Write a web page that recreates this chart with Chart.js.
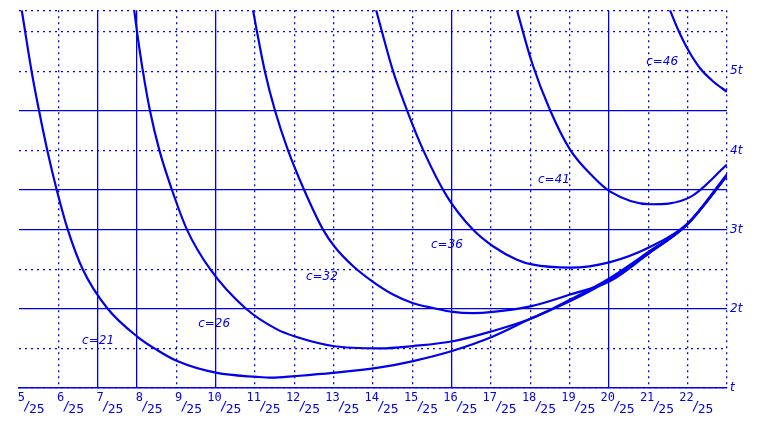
<!DOCTYPE html>
<html>
<head>
<meta charset="utf-8">
<script src="https://cdn.jsdelivr.net/npm/chart.js@4.4.0/dist/chart.umd.min.js"></script>
<style>
  html, body { margin: 0; padding: 0; background: #fff; }
  #wrap { width: 758px; height: 422px; position: relative; }
</style>
</head>
<body>
<div id="wrap"><canvas id="plot"></canvas></div>
<script>
// x is counted in 25ths, y in units of t
const xTicks = [5, 6, 7, 8, 9, 10, 11, 12, 13, 14, 15, 16, 17, 18, 19, 20, 21, 22];
const xDenominator = 25;
const yTickText = { 1: "t", 2: "2t", 3: "3t", 4: "4t", 5: "5t" };
const curveNames = ["c=21", "c=26", "c=32", "c=36", "c=41", "c=46"];

const c21X = [5.07, 5.32, 5.51, 5.72, 5.96, 6.24, 6.62, 7.24, 8.03, 8.51, 9.02, 10.03, 11.05, 11.43, 12.02, 12.98, 14.18, 15.02, 16.03, 17.05, 17.99, 19.03, 20.03, 21.04, 21.98, 23];
const c21Y = [5.77, 5.0, 4.5, 4.0, 3.5, 3.0, 2.5, 2.01, 1.64, 1.48, 1.34, 1.19, 1.14, 1.13, 1.15, 1.19, 1.26, 1.34, 1.47, 1.65, 1.87, 2.1, 2.37, 2.71, 3.06, 3.68];

const c26X = [7.93, 8.0, 8.15, 8.33, 8.57, 8.89, 9.27, 9.86, 10.75, 11.56, 12.02, 12.98, 14.18, 15.02, 16.03, 17.05, 17.99, 19.03, 20.03, 21.04, 21.98, 23];
const c26Y = [5.77, 5.5, 5.0, 4.5, 4.0, 3.5, 3.0, 2.5, 2.01, 1.74, 1.65, 1.53, 1.5, 1.53, 1.59, 1.72, 1.87, 2.12, 2.39, 2.73, 3.06, 3.68];

const c32X = [10.95, 11.05, 11.25, 11.51, 11.84, 12.25, 12.73, 13.03, 13.49, 14.0, 14.51, 15.02, 15.53, 16.03, 16.54, 17.05, 18.0, 19.01, 20.03, 21.04, 21.98, 23];
const c32Y = [5.77, 5.5, 5.0, 4.5, 4.0, 3.5, 3.0, 2.78, 2.54, 2.34, 2.18, 2.07, 2.01, 1.96, 1.945, 1.96, 2.03, 2.18, 2.35, 2.71, 3.06, 3.68];

const c36X = [14.08, 14.51, 14.87, 15.28, 15.88, 16.54, 17.05, 17.66, 18.04, 19.01, 20.03, 21.04, 21.98, 23];
const c36Y = [5.77, 5.0, 4.5, 4.0, 3.42, 3.0, 2.79, 2.62, 2.56, 2.52, 2.59, 2.78, 3.07, 3.7];

const c41X = [17.66, 18.04, 18.5, 19.01, 19.59, 20.03, 21.04, 22.06, 23];
const c41Y = [5.77, 5.11, 4.51, 4.01, 3.67, 3.48, 3.32, 3.41, 3.82];

const c46X = [21.55, 21.76, 22.01, 22.31, 22.65, 23];
const c46Y = [5.77, 5.52, 5.27, 5.04, 4.87, 4.74];

const blue = "rgb(0,0,235)";
const curves = [[c21X, c21Y], [c26X, c26Y], [c32X, c32Y], [c36X, c36Y], [c41X, c41Y], [c46X, c46Y]];

// grid lines drawn solid, the rest dotted
const solidX = [7, 8, 10, 16, 20];
const solidY = [2, 3, 3.5, 4.5];
const yGrid = [1, 1.5, 2, 2.5, 3, 3.5, 4, 4.5, 5, 5.5, 5.77];
const xGrid = [5, 6, 7, 8, 9, 10, 11, 12, 13, 14, 15, 16, 17, 18, 19, 20, 21, 22, 23];

// where the c= labels sit, in chart units
const labelSpots = [[7.01, 1.59], [9.96, 1.81], [12.7, 2.4], [15.88, 2.81], [18.6, 3.63], [21.35, 5.12]];

const datasets = curves.map(([xs, ys], i) => ({
    label: curveNames[i],
    data: xs.map((x, j) => ({ x: x, y: ys[j] })),
    borderColor: blue,
    borderWidth: 2.2,
    pointRadius: 0,
    cubicInterpolationMode: "monotone",
    fill: false
}));

const textPlugin = {
    id: "textPlugin",
    afterDraw(chart) {
        const { ctx, scales } = chart;
        const x = scales.x, y = scales.y;
        ctx.save();
        ctx.fillStyle = blue;
        ctx.textBaseline = "alphabetic";
        xTicks.forEach(n => {
            const g = x.getPixelForValue(n);
            ctx.font = '12px "DejaVu Sans Mono"';
            ctx.textAlign = "right";
            ctx.fillText(String(n), g + 6, 401);
            ctx.font = '13px "DejaVu Sans Mono"';
            ctx.textAlign = "center";
            ctx.fillText("/", g + 8, 410);
            ctx.textAlign = "left";
            ctx.fillText(String(xDenominator), g + 10, 413);
        });
        ctx.font = 'italic 12px "DejaVu Sans"';
        ctx.textAlign = "center";
        ctx.textBaseline = "middle";
        labelSpots.forEach(([lx, ly], i) => {
            ctx.fillText(curveNames[i], x.getPixelForValue(lx), y.getPixelForValue(ly));
        });
        ctx.restore();
    }
};

new Chart(document.getElementById("plot"), {
    type: "line",
    data: { datasets: datasets },
    options: {
        responsive: true,
        maintainAspectRatio: false,
        animation: false,
        layout: { padding: { left: 19, top: 10, bottom: 34, right: 0 } },
        plugins: { legend: { display: false }, tooltip: { enabled: false } },
        scales: {
            x: {
                type: "linear",
                min: 5,
                max: 23,
                afterBuildTicks: s => { s.ticks = xGrid.map(v => ({ value: v })); },
                afterFit: s => { s.height = 0; },
                ticks: { display: false },
                grid: {
                    drawTicks: false,
                    lineWidth: 1.3,
                    color: c => (c.tick && c.tick.value === 5) ? "rgba(0,0,0,0)" : blue
                },
                border: {
                    display: true,
                    color: blue,
                    width: 1.5,
                    dash: c => (c.tick && solidX.includes(c.tick.value)) ? [] : [2, 4]
                }
            },
            y: {
                type: "linear",
                position: "right",
                min: 1,
                max: 5.77,
                afterBuildTicks: s => { s.ticks = yGrid.map(v => ({ value: v })); },
                afterFit: s => { s.width = 31; },
                ticks: {
                    autoSkip: false,
                    padding: 3,
                    color: blue,
                    font: { family: "DejaVu Sans", size: 12, style: "italic" },
                    callback: v => yTickText[v] || ""
                },
                grid: { drawTicks: false, lineWidth: 1.3, color: blue },
                border: {
                    display: false,
                    dash: c => (c.tick && solidY.includes(c.tick.value)) ? [] : [2, 4]
                }
            }
        }
    },
    plugins: [textPlugin]
});
</script>
</body>
</html>
